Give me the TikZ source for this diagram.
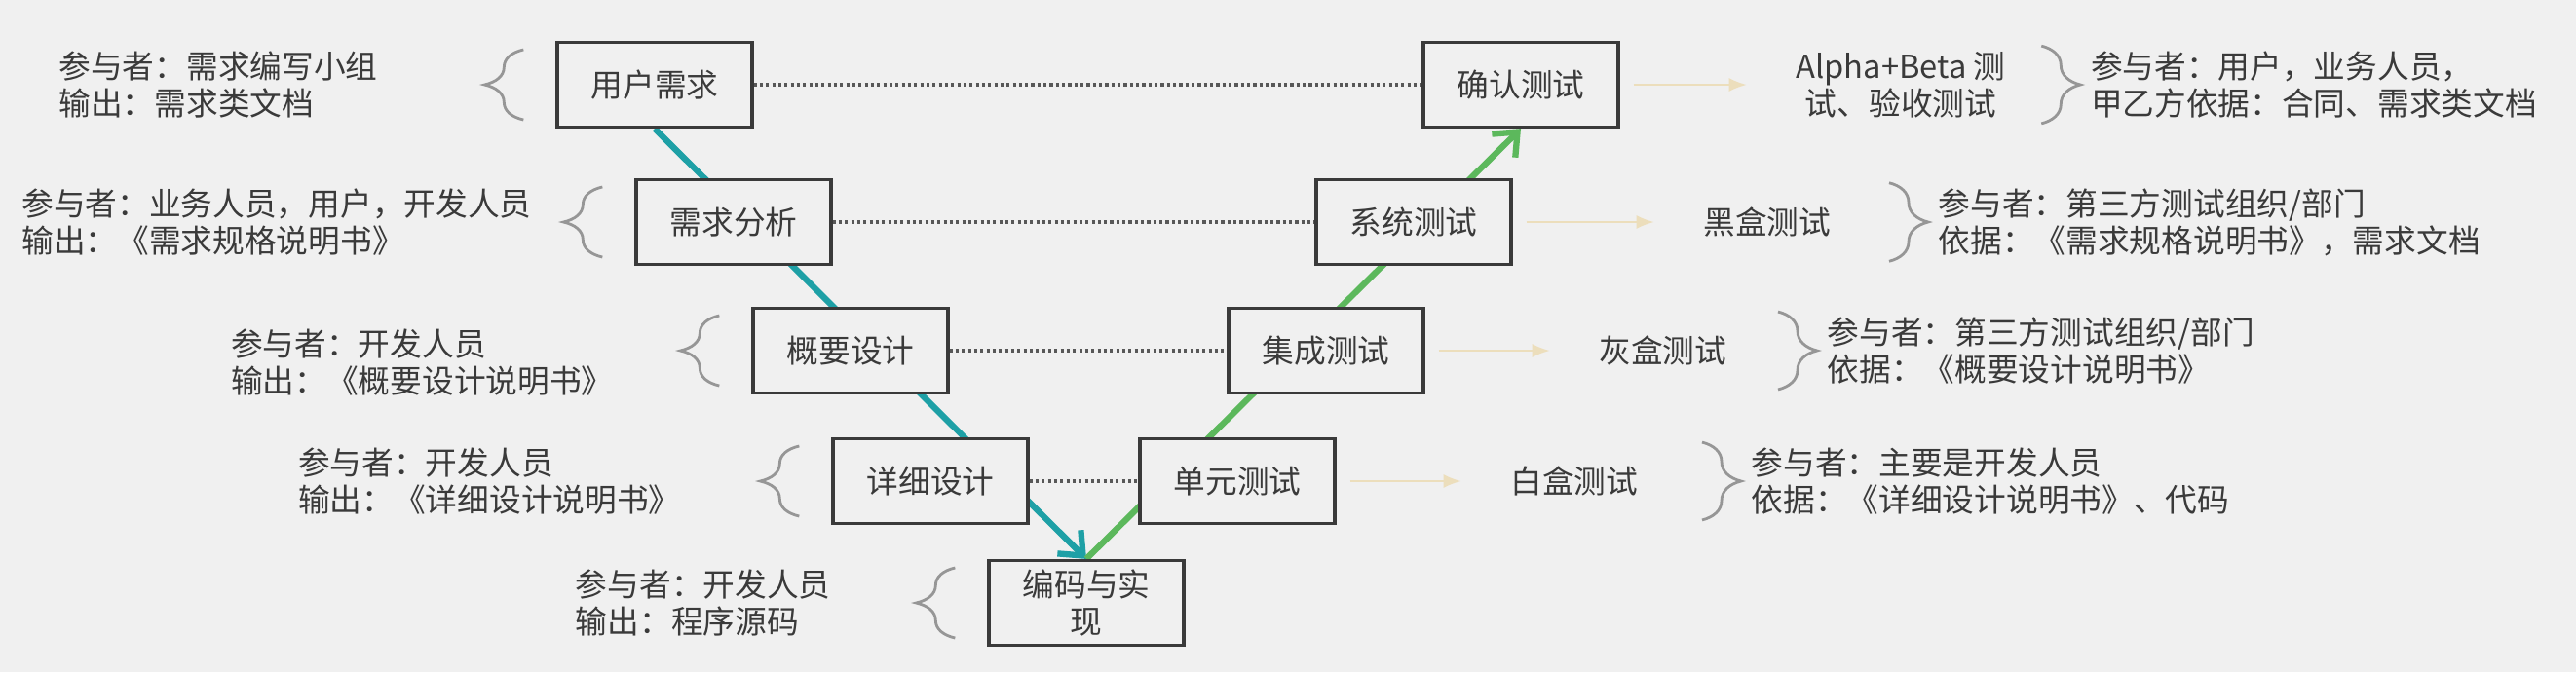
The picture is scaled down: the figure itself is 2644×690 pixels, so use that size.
\documentclass[tikz,border=0pt]{standalone}
\usepackage{fontspec}
\setmainfont{Noto Sans CJK SC}
\usepackage{tikz}
\usetikzlibrary{arrows.meta,positioning,decorations.pathreplacing,backgrounds}
\definecolor{pagegray}{RGB}{240,240,240}
\definecolor{inkgray}{RGB}{58,58,58}
\definecolor{vteal}{RGB}{30,160,166}
\definecolor{vgreen}{RGB}{92,184,92}
\definecolor{faintlead}{RGB}{236,222,188}
\definecolor{bracegray}{RGB}{150,150,150}

\begin{document}
\begin{tikzpicture}[
  x=0.01cm, y=0.01cm,
  every node/.style={font=\fontsize{9.3}{10.8}\selectfont, text=inkgray},
  stage/.style={draw=inkgray, line width=0.9pt, fill=pagegray, align=center, minimum width=2cm, minimum height=0.87cm, inner sep=2pt},
  note/.style={align=left, inner sep=0pt},
  kind/.style={align=center, inner sep=0pt},
  pair/.style={draw=inkgray!85, line width=0.9pt, dash pattern=on 0.9pt off 0.9pt},
  descend/.style={-{Straight Barb[length=2mm,width=3.4mm]}, line width=1.8pt, draw=vteal},
  ascend/.style={-{Straight Barb[length=2mm,width=3.4mm]}, line width=1.8pt, draw=vgreen},
  lead/.style={-{Latex[length=1.8mm,width=1.4mm]}, line width=0.6pt, draw=faintlead, shorten <=0.14cm, shorten >=0.5cm},
  lbrace/.style={decorate, decoration={brace, amplitude=0.4cm}, draw=bracegray, line width=0.8pt}
]
\useasboundingbox (0,0) rectangle (2644,-690);

\node[stage] (yhxq) at (672,-87) {用户需求};
\node[stage] (xqfx) at (753,-228) {需求分析};
\node[stage] (gysj) at (873,-360) {概要设计};
\node[stage] (xxsj) at (955,-494) {详细设计};
\node[stage] (bmsx) at (1115,-619) {编码与实\\现};
\node[stage] (dycs) at (1270,-494) {单元测试};
\node[stage] (jccs) at (1361,-360) {集成测试};
\node[stage] (xtcs) at (1451,-228) {系统测试};
\node[stage] (qrcs) at (1561,-87) {确认测试};

\node[note, left=1.82cm of yhxq] (in1) {参与者：需求编写小组\\输出：需求类文档};
\node[note, left=1.05cm of xqfx] (in2) {参与者：业务人员，用户，开发人员\\输出：《需求规格说明书》};
\node[note, left=1.41cm of gysj, yshift=-0.12cm] (in3) {参与者：开发人员\\输出：《概要设计说明书》};
\node[note, left=1.54cm of xxsj] (in4) {参与者：开发人员\\输出：《详细设计说明书》};
\node[note, left=1.60cm of bmsx] (in5) {参与者：开发人员\\输出：程序源码};

\node[kind, right=1.8cm of qrcs] (k1) {Alpha+Beta 测\\试、验收测试};
\node[kind, right=1.95cm of xtcs] (k2) {黑盒测试};
\node[kind, right=1.78cm of jccs] (k3) {灰盒测试};
\node[kind, right=1.78cm of dycs] (k4) {白盒测试};

\node[note, right=0.86cm of k1] (out1) {参与者：用户，业务人员，\\甲乙方依据：合同、需求类文档};
\node[note, right=1.09cm of k2] (out2) {参与者：第三方测试组织/部门\\依据：《需求规格说明书》，需求文档};
\node[note, right=1.02cm of k3] (out3) {参与者：第三方测试组织/部门\\依据：《概要设计说明书》};
\node[note, right=1.15cm of k4] (out4) {参与者：主要是开发人员\\依据：《详细设计说明书》、代码};

\begin{scope}[on background layer]
  \fill[pagegray] (0,0) rectangle (2644,-690);
  \draw[descend] (yhxq.south) -- (bmsx.north);
  \draw[ascend] (bmsx.north) -- (qrcs.south);
\end{scope}

\draw[pair] (yhxq) -- (qrcs);
\draw[pair] (xqfx) -- (xtcs);
\draw[pair] (gysj) -- (jccs);
\draw[pair] (xxsj) -- (dycs);

\draw[lead] (qrcs) -- (k1);
\draw[lead] (xtcs) -- (k2);
\draw[lead] (jccs) -- (k3);
\draw[lead] (dycs) -- (k4);

\foreach \b in {yhxq,xqfx,gysj,xxsj,bmsx}
  \draw[lbrace] ([shift={(-0.33cm,-0.36cm)}]\b.west) -- ([shift={(-0.33cm,0.36cm)}]\b.west);
\foreach \d in {out1,out2,out3,out4}
  \draw[lbrace] ([shift={(-0.5cm,0.05cm)}]\d.north west) -- ([shift={(-0.5cm,-0.05cm)}]\d.south west);

\end{tikzpicture}
\end{document}
